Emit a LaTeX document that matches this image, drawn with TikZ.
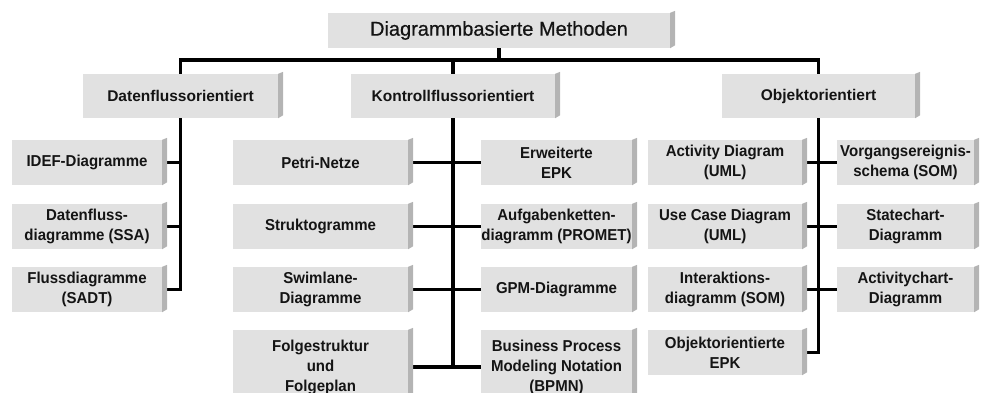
\documentclass[tikz,border=0pt]{standalone}
\usepackage{fontspec}
\setmainfont{Liberation Sans}
\newfontfamily\leaffont{Liberation Sans}[FakeStretch=0.95]
\newfontfamily\titlefont{Liberation Sans}[FakeBold=0.6]
\pgfdeclarelayer{background}
\pgfsetlayers{background,main}
\definecolor{boxface}{HTML}{E1E1E1}
\definecolor{boxside}{HTML}{B4B4B4}
\definecolor{ink}{HTML}{141414}
\tikzset{
  base/.style={rectangle, fill=boxface, inner sep=0pt, align=center, text=ink},
  toptext/.style={base, font=\titlefont\fontsize{20}{24}\selectfont},
  midbox/.style={base, font=\bfseries\fontsize{15.5}{20}\selectfont},
  leafbox/.style={base, font=\leaffont\bfseries\fontsize{15.8}{20}\selectfont},
  conn/.style={line width=3.5pt, draw=black, line join=miter}
}
% style, name, centre x, centre y, width, height, text
\newcommand{\bevelbox}[7]{%
  \node[#1, minimum width=#5pt, minimum height=#6pt] (#2) at (#3,#4) {#7};
  \fill[boxside] (#2.north east) -- ++(5,-2) -- ([xshift=5pt,yshift=3pt]#2.south east) -- (#2.south east) -- cycle;
}
\begin{document}
\begin{tikzpicture}[x=1pt,y=-1pt]
\useasboundingbox (0,0) rectangle (981,392);
\clip (0,0) rectangle (981,392);

% top level
\bevelbox{toptext}{root}{499}{30.5}{342}{35}{Diagrammbasierte Methoden}

% second level
\bevelbox{midbox}{daten}{180.5}{96}{195}{44}{Datenflussorientiert}
\bevelbox{midbox}{kontroll}{453}{96}{204}{44}{Kontrollflussorientiert}
\bevelbox{midbox}{objekt}{818.5}{96}{193}{44}{Objektorientiert}

% data flow oriented
\bevelbox{leafbox}{idef}{87}{162.5}{150}{45}{IDEF-Diagramme}
\bevelbox{leafbox}{ssa}{87}{226.5}{150}{45}{Datenfluss-\\diagramme (SSA)}
\bevelbox{leafbox}{sadt}{87}{289.5}{150}{45}{Flussdiagramme\\(SADT)}

% control flow oriented, left column
\bevelbox{leafbox}{petri}{320.5}{162.5}{175}{45}{Petri-Netze}
\bevelbox{leafbox}{strukto}{320.5}{226.5}{175}{45}{Struktogramme}
\bevelbox{leafbox}{swim}{320.5}{289.5}{175}{45}{Swimlane-\\Diagramme}
\bevelbox{leafbox}{folge}{320.5}{367}{175}{74}{Folgestruktur\\und\\Folgeplan}

% control flow oriented, right column
\bevelbox{leafbox}{epk}{556.5}{162.5}{151}{45}{Erweiterte\\EPK}
\bevelbox{leafbox}{aufg}{556.5}{226.5}{151}{45}{Aufgabenketten-\\diagramm (PROMET)}
\bevelbox{leafbox}{gpm}{556.5}{289.5}{151}{45}{GPM-Diagramme}
\bevelbox{leafbox}{bpmn}{556.5}{367}{151}{74}{Business Process\\Modeling Notation\\(BPMN)}

% object oriented, left column
\bevelbox{leafbox}{actdiag}{725}{162.5}{154}{45}{Activity Diagram\\(UML)}
\bevelbox{leafbox}{usecase}{725}{226.5}{154}{45}{Use Case Diagram\\(UML)}
\bevelbox{leafbox}{interakt}{725}{289.5}{154}{45}{Interaktions-\\diagramm (SOM)}
\bevelbox{leafbox}{objepk}{725}{352.5}{154}{45}{Objektorientierte\\EPK}

% object oriented, right column
\bevelbox{leafbox}{vorgang}{905.5}{162.5}{137}{45}{Vorgangsereignis-\\schema (SOM)}
\bevelbox{leafbox}{statechart}{905.5}{226.5}{137}{45}{Statechart-\\Diagramm}
\bevelbox{leafbox}{actchart}{905.5}{289.5}{137}{45}{Activitychart-\\Diagramm}

% connectors behind the boxes
\begin{pgfonlayer}{background}
  \coordinate (bus) at (0,60);
  \draw[conn] (daten.north) |- (bus -| kontroll.north) -| (objekt.north);
  \draw[conn] (root.south) -- (root.south |- bus);
  \draw[conn] (kontroll.north) -- (kontroll.north |- bus);

  \draw[conn] (daten.south) |- (sadt.center);
  \draw[conn] (idef.center) -- (idef.center -| daten.south);
  \draw[conn] (ssa.center) -- (ssa.center -| daten.south);

  \draw[conn] (kontroll.south) -- (kontroll.south |- folge.center);
  \draw[conn] (petri.center) -- (epk.center);
  \draw[conn] (strukto.center) -- (aufg.center);
  \draw[conn] (swim.center) -- (gpm.center);
  \draw[conn] (folge.center) -- (bpmn.center);

  \draw[conn] (objekt.south) |- (objepk.center);
  \draw[conn] (actdiag.center) -- (vorgang.center);
  \draw[conn] (usecase.center) -- (statechart.center);
  \draw[conn] (interakt.center) -- (actchart.center);
\end{pgfonlayer}
\end{tikzpicture}
\end{document}
